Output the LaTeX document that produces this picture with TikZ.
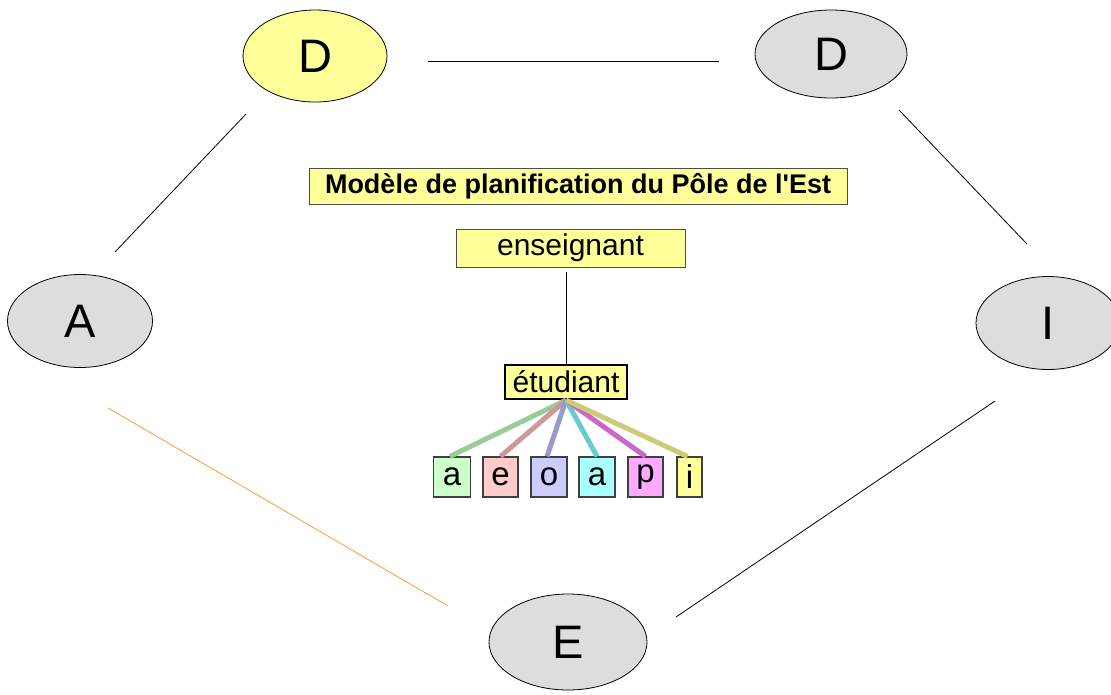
\documentclass[tikz,border=0pt]{standalone}
\usepackage{fontspec}
\setmainfont{Liberation Sans}[Ligatures=TeXOff]
\usetikzlibrary{shapes.geometric}
\definecolor{lyellow}{HTML}{FFFF99}
\definecolor{lgray}{HTML}{DDDDDD}
\definecolor{orangeline}{HTML}{FF9933}
\definecolor{fa}{HTML}{CCFFCC}
\definecolor{fe}{HTML}{FFCCCC}
\definecolor{fo}{HTML}{CCCCFF}
\definecolor{fc}{HTML}{AAFFFF}
\definecolor{fp}{HTML}{FFAAFF}
\tikzset{
  oval/.style={ellipse, draw=black, line width=0.8pt, fill=lgray, inner sep=0pt, font=\fontsize{47}{47}\selectfont},
  tbox/.style={rectangle, draw=black!70, line width=1pt, fill=lyellow, inner sep=0pt, font=\fontsize{30}{30}\selectfont},
  lbox/.style={rectangle, draw=black!75, line width=1.2pt, inner sep=0pt, minimum height=40pt, font=\fontsize{33}{33}\selectfont},
  conn/.style={line width=0.8pt, draw=black},
  fan/.style={line width=5pt},
}
\begin{document}
\begin{tikzpicture}[x=1pt,y=-1pt]
\useasboundingbox (0,0) rectangle (1111,694);
% ellipses
\node[oval, fill=lyellow, minimum width=144pt, minimum height=92pt] (D1) at (315,56) {D};
\node[oval, minimum width=152pt, minimum height=88pt] (D2) at (831,54) {D};
\node[oval, minimum width=145pt, minimum height=93pt] (A) at (80,321) {A};
\node[oval, minimum width=144pt, minimum height=93pt] (I) at (1048,323) {I};
\node[oval, minimum width=158pt, minimum height=96pt] (E) at (568,642) {E};
% free line ends
\coordinate (p1) at (428,61); \coordinate (p2) at (719,61);
\coordinate (p3) at (246,114); \coordinate (p4) at (115,252);
\coordinate (p5) at (899,110); \coordinate (p6) at (1027,244);
\coordinate (p7) at (108,408); \coordinate (p8) at (448,606);
\coordinate (p9) at (995,401); \coordinate (p10) at (676,617);
\draw[conn] (p1) -- (p2);
\draw[conn] (p3) -- (p4);
\draw[conn] (p5) -- (p6);
\draw[conn, draw=orangeline] (p7) -- (p8);
\draw[conn] (p9) -- (p10);
% text boxes
\node[tbox, minimum width=538pt, minimum height=36pt, font=\fontsize{27}{27}\selectfont\bfseries] (title) at (578,186) {Modèle de planification du Pôle de l'Est};
\node[tbox, minimum width=229pt, minimum height=38pt] (ens) at (570.5,248) {enseignant};
\node[tbox, draw=black, line width=2.2pt, minimum width=122pt, minimum height=34pt] (etu) at (566,382) {étudiant};
\coordinate (q1) at (566,272);
\draw[conn] (q1) -- (etu.north);
% small boxes
\node[lbox, fill=fa, minimum width=37pt] (b1) at (452,477) {a};
\node[lbox, fill=fe, minimum width=35pt] (b2) at (500.5,477) {e};
\node[lbox, fill=fo, minimum width=36pt] (b3) at (549,477) {o};
\node[lbox, fill=fc, minimum width=36pt] (b4) at (597,477) {a};
\node[lbox, fill=fp, minimum width=35pt] (b5) at (645.5,477) {p};
\node[lbox, fill=lyellow, minimum width=25pt] (b6) at (689.5,477) {i};
% fan lines
\draw[fan, draw={rgb,255:red,153;green,204;blue,153}] (etu.south) -- ([xshift=-2pt]b1.north);
\draw[fan, draw={rgb,255:red,204;green,153;blue,153}] (etu.south) -- (b2.north);
\draw[fan, draw={rgb,255:red,153;green,153;blue,204}] (etu.south) -- ([xshift=-2pt]b3.north);
\draw[fan, draw={rgb,255:red,102;green,204;blue,204}] (etu.south) -- (b4.north);
\draw[fan, draw={rgb,255:red,204;green,102;blue,204}] (etu.south) -- (b5.north);
\draw[fan, draw={rgb,255:red,204;green,204;blue,119}] (etu.south) -- ([xshift=-2pt]b6.north);
\end{tikzpicture}
\end{document}
